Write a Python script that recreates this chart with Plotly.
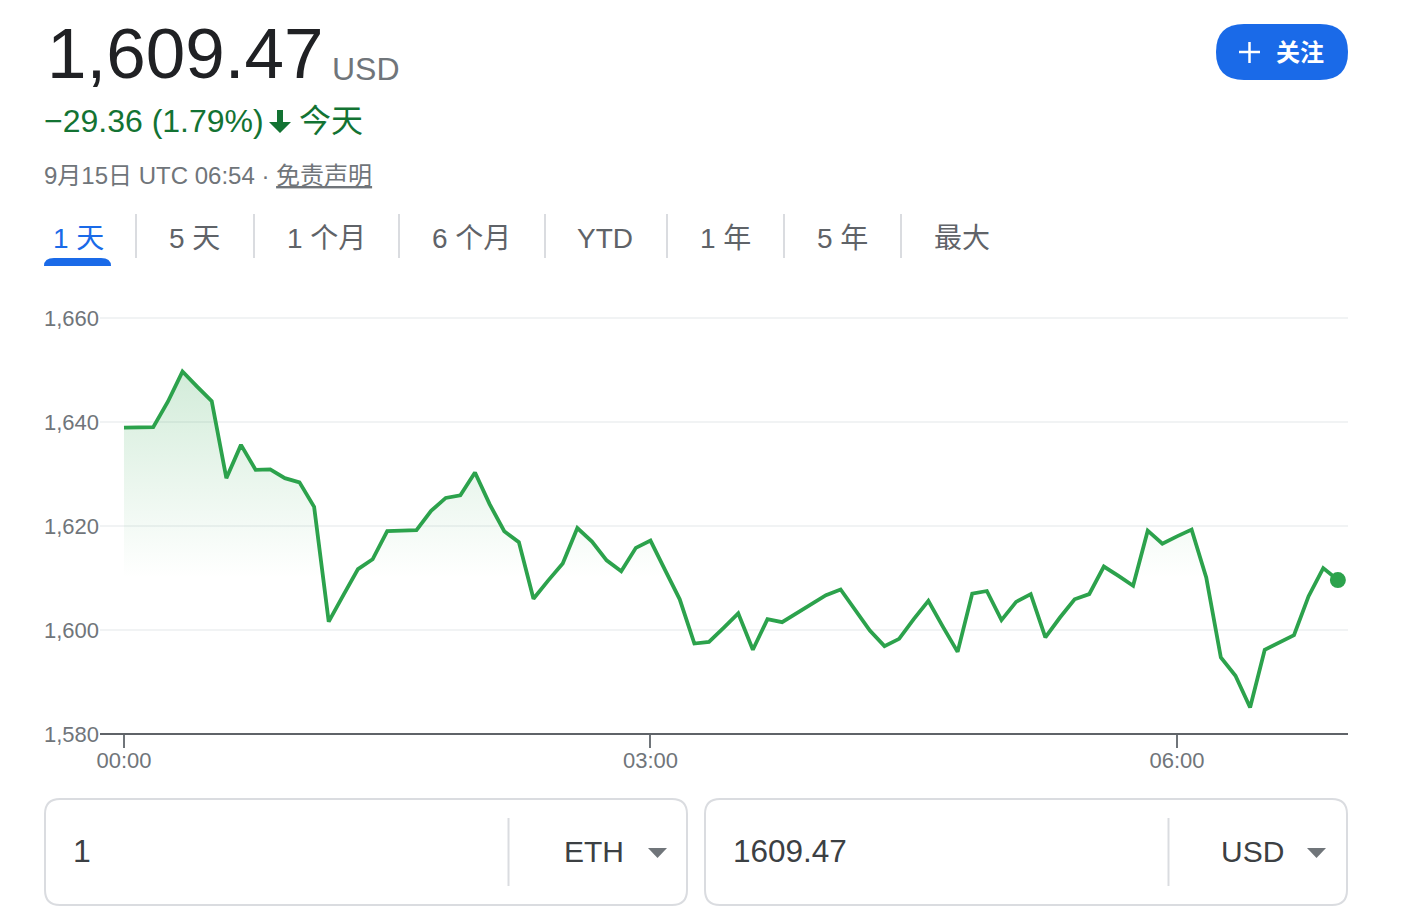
"""
ETH/USD 一天走势 (Google 财经卡片)
"""
import pandas as pd
import plotly.graph_objects as go

W, H = 1420, 924
LEFT, RIGHT, TOP, BOTTOM = 100, 1348, 300, 734

FONT = "Liberation Sans, Arial, Noto Sans CJK SC"
GREEN = "#2ca24c"
BLUE = "#1a6ae8"
BORDER = "#dadce0"

# 5 分钟一个点，从 00:00 到 06:55
prices = [
    1638.9, 1639.0, 1639.0, 1643.9, 1649.7, 1646.8, 1644.0, 1629.2, 1635.6, 1630.8,
    1630.9, 1629.2, 1628.4, 1623.7, 1601.6, 1606.7, 1611.7, 1613.6, 1619.0, 1619.1,
    1619.2, 1622.9, 1625.4, 1625.9, 1630.3, 1624.2, 1619.0, 1616.9, 1606.0, 1609.5,
    1612.8, 1619.6, 1617.0, 1613.4, 1611.3, 1615.8, 1617.2, 1611.5, 1605.9, 1597.4,
    1597.7, 1600.4, 1603.2, 1596.2, 1602.1, 1601.5, 1603.2, 1604.9, 1606.7, 1607.8,
    1603.8, 1599.9, 1596.9, 1598.3, 1602.1, 1605.6, 1600.6, 1595.8, 1607.0, 1607.5,
    1601.9, 1605.4, 1606.9, 1598.6, 1602.4, 1605.9, 1606.9, 1612.2, 1610.4, 1608.5,
    1619.1, 1616.6, 1618.0, 1619.3, 1610.1, 1594.7, 1591.2, 1585.1, 1596.2, 1597.6,
    1599.0, 1606.5, 1611.9, 1609.6,
]
times = pd.date_range("2022-09-15 00:00", periods=len(prices), freq="5min")
baseline = [1580] * len(prices)

y_ticks = [1580, 1600, 1620, 1640, 1660]
y_tick_labels = ["1,580", "1,600", "1,620", "1,640", "1,660"]
x_ticks = ["2022-09-15 00:00", "2022-09-15 03:00", "2022-09-15 06:00"]
x_tick_labels = ["00:00", "03:00", "06:00"]

tab_labels = ["1 天", "5 天", "1 个月", "6 个月", "YTD", "1 年", "5 年", "最大"]
tab_centers = [78, 194, 326, 471, 605, 725, 842, 962]
tab_dividers = [136, 254, 399, 545, 667, 784, 901]


def px(x):
    return (x - LEFT) / (RIGHT - LEFT)


def py(y):
    return (BOTTOM - y) / (BOTTOM - TOP)


def label(text, x, y, size, color, anchor="left"):
    return dict(
        text=text, x=px(x), y=py(y), xref="paper", yref="paper", showarrow=False,
        xanchor=anchor, yanchor="middle", borderpad=0, borderwidth=0,
        font=dict(family=FONT, size=size, color=color),
    )


def rounded(x0, y0, x1, y1, r):
    return (
        f"M{px(x0 + r)},{py(y0)} L{px(x1 - r)},{py(y0)} "
        f"Q{px(x1)},{py(y0)} {px(x1)},{py(y0 + r)} L{px(x1)},{py(y1 - r)} "
        f"Q{px(x1)},{py(y1)} {px(x1 - r)},{py(y1)} L{px(x0 + r)},{py(y1)} "
        f"Q{px(x0)},{py(y1)} {px(x0)},{py(y1 - r)} L{px(x0)},{py(y0 + r)} "
        f"Q{px(x0)},{py(y0)} {px(x0 + r)},{py(y0)} Z"
    )


def poly(points):
    return "M" + " L".join(f"{px(x)},{py(y)}" for x, y in points) + " Z"


def line_shape(x0, y0, x1, y1, color, width):
    return dict(
        type="line", xref="paper", yref="paper", x0=px(x0), y0=py(y0), x1=px(x1), y1=py(y1),
        line=dict(color=color, width=width), layer="above",
    )


def path_shape(path, fill, line_color=None, line_width=0):
    return dict(
        type="path", xref="paper", yref="paper", path=path, fillcolor=fill,
        line=dict(color=line_color or fill, width=line_width), layer="above",
    )


fig = go.Figure()
fig.add_trace(go.Scatter(x=times, y=baseline, mode="lines", line=dict(width=0), hoverinfo="skip"))
fig.add_trace(go.Scatter(
    x=times, y=prices, mode="lines", line=dict(color=GREEN, width=3.8),
    fill="tonexty",
    fillgradient=dict(
        type="vertical", start=1650, stop=1610,
        colorscale=[[0, "rgba(52,168,83,0.22)"], [1, "rgba(52,168,83,0)"]],
    ),
))
fig.add_trace(go.Scatter(
    x=times[-1:], y=prices[-1:], mode="markers", marker=dict(color=GREEN, size=16), cliponaxis=False,
))

annotations = [
    label("1,609.47", 47, 54, 71, "#202124"),
    label("USD", 332, 69, 32, "#70757a"),
    label("−29.36 (1.79%)", 44, 121, 32, "#137333"),
    label("今天", 299, 121, 32, "#137333"),
    label("9月15日 UTC 06:54 · <u>免责声明</u>", 44, 176, 24, "#70757a"),
    label("<b>关注</b>", 1300, 52, 24, "#ffffff", "center"),
    label("1", 73, 851, 32, "#3c4043"),
    label("ETH", 564, 851, 30, "#3c4043"),
    label("1609.47", 733, 851, 31.5, "#3c4043"),
    label("USD", 1221, 851, 30, "#3c4043"),
]
for text, center in zip(tab_labels, tab_centers):
    color = BLUE if text == "1 天" else "#5f6368"
    annotations.append(label(text, center, 238, 28, color, "center"))

shapes = [line_shape(x, 214, x, 258, BORDER, 2) for x in tab_dividers]
shapes += [
    # x 轴线，压在 1,580 这条线的正中
    line_shape(LEFT, BOTTOM, RIGHT, BOTTOM, "#5f6368", 2),
    # 当前选中的 tab
    path_shape(
        f"M{px(44)},{py(266)} L{px(44)},{py(266)} Q{px(44)},{py(258)} {px(54)},{py(258)} "
        f"L{px(101)},{py(258)} Q{px(111)},{py(258)} {px(111)},{py(266)} Z",
        BLUE,
    ),
    # 涨跌箭头
    path_shape(
        poly([(277, 110), (283, 110), (283, 122), (291, 122), (280, 133), (269, 122), (277, 122)]),
        "#137333",
    ),
    # 关注按钮
    path_shape(rounded(1216, 24, 1348, 80, 28), BLUE),
    line_shape(1239, 52, 1260, 52, "#ffffff", 2.5),
    line_shape(1249.5, 42, 1249.5, 63, "#ffffff", 2.5),
    # 底部换算框
    path_shape(rounded(45, 799, 687, 905, 15), "rgba(0,0,0,0)", BORDER, 2),
    path_shape(rounded(705, 799, 1347, 905, 15), "rgba(0,0,0,0)", BORDER, 2),
    line_shape(508.5, 818, 508.5, 886, BORDER, 2),
    line_shape(1168.5, 818, 1168.5, 886, BORDER, 2),
    path_shape(poly([(648, 848), (667, 848), (657.5, 858)]), "#70757a"),
    path_shape(poly([(1307, 848), (1326, 848), (1316.5, 858)]), "#70757a"),
]

fig.update_layout(
    width=W, height=H,
    margin=dict(l=LEFT, r=W - RIGHT, t=TOP, b=H - BOTTOM, pad=0),
    paper_bgcolor="#ffffff", plot_bgcolor="#ffffff",
    showlegend=False,
    annotations=annotations,
    shapes=shapes,
    xaxis=dict(
        type="date", range=["2022-09-14 23:51:48", "2022-09-15 06:58:28"],
        tickmode="array", tickvals=x_ticks, ticktext=x_tick_labels,
        showgrid=False, zeroline=False, showline=False,
        ticks="outside", ticklen=13, tickwidth=2, tickcolor="#70757a",
        ticklabelstandoff=-6,
        tickfont=dict(family=FONT, size=22, color="#70757a"),
    ),
    yaxis=dict(
        range=[1580, 1663.46], tickmode="array", tickvals=y_ticks, ticktext=y_tick_labels,
        showgrid=True, gridcolor="#f1f3f4", gridwidth=2, zeroline=False, showline=False,
        ticks="", tickfont=dict(family=FONT, size=22, color="#70757a"),
    ),
)

# 页面默认有 8px 的 body margin，去掉才能和原图对齐
fig.write_html(
    "out.html",
    config={"displayModeBar": False},
    post_script="document.body.style.margin = '0';",
)
